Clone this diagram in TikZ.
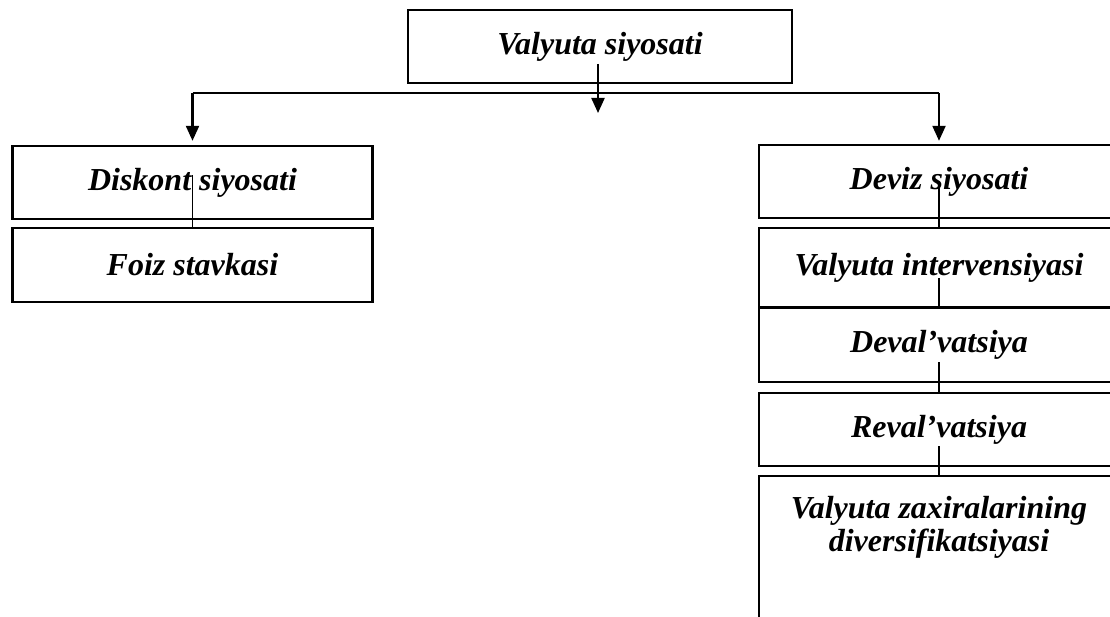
\documentclass[tikz,border=0pt]{standalone}
\usepackage{fontspec}
\setmainfont{Liberation Serif}
\usetikzlibrary{arrows.meta,calc}
\begin{document}
\begin{tikzpicture}[x=1pt,y=-1pt,
  txt/.style={font=\fontsize{32}{33}\selectfont\bfseries\itshape},
  box/.style={draw, line width=2.4pt, minimum width=360pt, inner sep=0pt, txt},
  lbl/.style={inner sep=0pt, align=center, txt},
  conn/.style={line width=1.5pt},
  hline/.style={line width=2.2pt},
  arr/.style={line width=2.2pt, -{Triangle[length=15pt,width=13pt]}}]
\useasboundingbox (0,0) rectangle (1110,617);
\clip (0,0) rectangle (1110,617);
% boxes
\node[box, minimum width=384pt, minimum height=73pt] (top) at (600,46.5) {Valyuta siyosati};
\node[box, minimum height=73pt] (dis) at (192.5,182.5) {Diskont siyosati};
\node[box, minimum height=74pt] (foiz) at (192.5,265) {Foiz stavkasi};
\node[box, minimum height=73pt] (deviz) at (939,181.5) {Deviz siyosati};
\node[box, minimum height=80pt] (vint) at (939,268) {Valyuta intervensiyasi};
\node[box, minimum height=75pt] (deval) at (939,344.5) {Deval’vatsiya};
\node[box, minimum height=73pt] (reval) at (939,429.5) {Reval’vatsiya};
\node[box, minimum height=170pt, anchor=north] (div) at (939,475) {};
\node[lbl] (divt) at (939,527) {Valyuta zaxiralarining\\diversifikatsiyasi};
% top connectors
\coordinate (hl) at (192.5,93);
\coordinate (hr) at (939,93);
\draw[arr] ($(top.center)+(-2,17.5)$) -- ++(0,49);
\draw[hline] (hl) -- (hr);
\draw[arr] (hl) -- ($(dis.north)+(0,-4)$);
\draw[arr] (hr) -- ($(deviz.north)+(0,-3)$);
% chain connectors
\draw[conn] ($(dis.center)+(0,-7)$) -- (foiz.north);
\draw[conn] (deviz.center) -- (vint.north);
\draw[conn] ($(vint.center)+(0,10)$) -- (deval.north);
\draw[conn] ($(deval.center)+(0,17.5)$) -- (reval.north);
\draw[conn] ($(reval.center)+(0,16.5)$) -- (div.north);
\end{tikzpicture}
\end{document}
